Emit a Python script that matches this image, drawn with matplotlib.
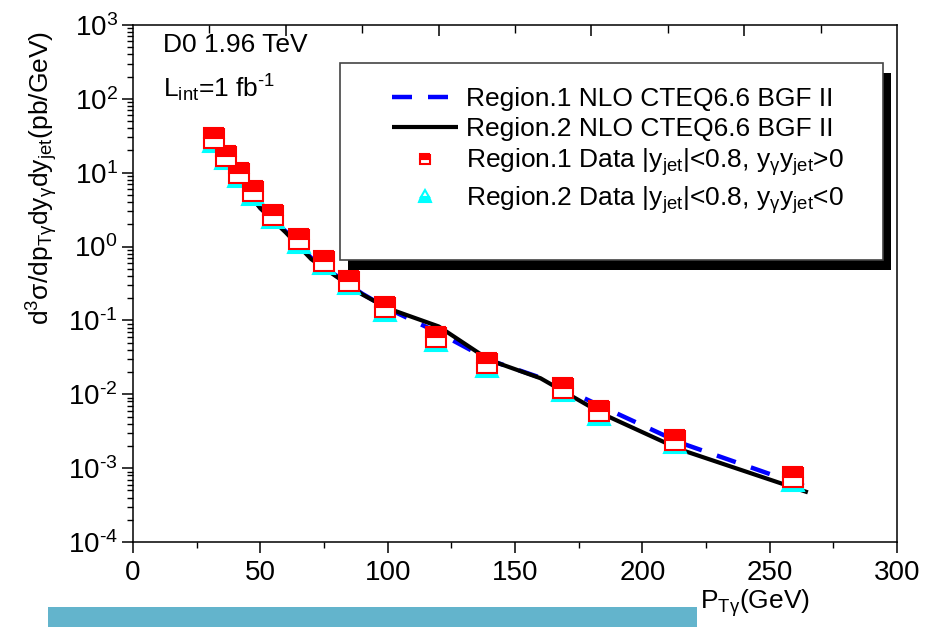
import matplotlib
matplotlib.use("Agg")
import matplotlib.pyplot as plt
from matplotlib.lines import Line2D
from matplotlib.patches import Rectangle
from matplotlib.ticker import FixedLocator, LogLocator, NullFormatter, FuncFormatter
import math

plt.rcParams["font.family"] = ["Liberation Sans", "DejaVu Sans"]
plt.rcParams["mathtext.fontset"] = "custom"
plt.rcParams["mathtext.rm"] = "Liberation Sans"
plt.rcParams["mathtext.it"] = "Liberation Sans"
plt.rcParams["mathtext.bf"] = "Liberation Sans:bold"

HYPHEN = "\u2010"

# Measured photon+jet cross sections (pb/GeV)
pt_data = [32, 36.5, 41.5, 47, 55, 65, 75, 85, 99, 119, 139, 169, 183, 213, 259]
region1_data = [29.3, 16.9, 9.8, 5.6, 2.7, 1.25, 0.64, 0.345, 0.150, 0.059,
                0.0265, 0.0123, 0.0059, 0.00244, 0.00076]
region2_data = [27.0, 15.6, 9.0, 5.1, 2.5, 1.15, 0.59, 0.32, 0.138, 0.054,
                0.0244, 0.0113, 0.0054, 0.00224, 0.00070]

# NLO CTEQ6.6 BGF II predictions
pt_nlo = [30, 35, 40, 45, 50, 60, 70, 80, 90, 100, 120, 140, 160, 185, 215, 265]
region1_nlo = [31, 17.5, 9.8, 5.6, 3.35, 1.6, 0.70, 0.40, 0.23, 0.145, 0.068,
               0.029, 0.0168, 0.0066, 0.0022, 0.00055]
region2_nlo = [30, 17, 9.5, 5.5, 3.3, 1.55, 0.675, 0.39, 0.225, 0.146, 0.083,
               0.029, 0.0165, 0.0053, 0.00178, 0.00047]

labels = [
    "Region.1 NLO CTEQ6.6 BGF II",
    "Region.2 NLO CTEQ6.6 BGF II",
    r"Region.1 Data |y$_{jet}$|<0.8, y$_{\gamma}$y$_{jet}$>0",
    r"Region.2 Data |y$_{jet}$|<0.8, y$_{\gamma}$y$_{jet}$<0",
]
x_ticks = [0, 50, 100, 150, 200, 250, 300]

W, H = 925, 627
fig = plt.figure(figsize=(W / 100, H / 100), dpi=100)
L, R, T, B = 133, 897, 25, 542
ax = fig.add_axes([L / W, 1 - B / H, (R - L) / W, (B - T) / H])

blue_style = dict(color="#0000ff", lw=3.2, dashes=[4.5, 3.6], dash_capstyle="butt")
black_style = dict(color="black", lw=3.0, solid_capstyle="butt")
sq_style = dict(marker="s", ls="none", color="#ff0000", mfc="#ff0000",
                mfcalt="white", fillstyle="top", mec="#ff0000", mew=1.5)
tri_style = dict(marker="^", ls="none", color="#00ffff", mfc="#00ffff",
                 mfcalt="white", fillstyle="bottom", mec="#00ffff", mew=1.5)

ax.plot(pt_nlo, region1_nlo, zorder=2, **blue_style)
ax.plot(pt_nlo, region2_nlo, zorder=2.1, **black_style)
ax.plot(pt_data, region2_data, ms=16, zorder=3, **tri_style)
ax.plot(pt_data, region1_data, ms=14, zorder=4, **sq_style)

ax.set_yscale("log")
ax.set_xlim(0, 300)
ax.set_ylim(1e-4, 1e3)

for s in ax.spines.values():
    s.set_linewidth(1.1)


def decade_label(v, pos):
    e = int(round(math.log10(v)))
    exp = str(e).replace("-", HYPHEN)
    return "10$^{" + exp + "}$"


ax.xaxis.set_major_locator(FixedLocator(x_ticks))
ax.xaxis.set_minor_locator(FixedLocator([25, 75, 125, 175, 225, 275]))
ax.yaxis.set_major_locator(LogLocator(base=10, numticks=20))
ax.yaxis.set_major_formatter(FuncFormatter(decade_label))
ax.yaxis.set_minor_locator(LogLocator(base=10, subs=range(2, 10), numticks=20))
ax.yaxis.set_minor_formatter(NullFormatter())
ax.tick_params(axis="both", which="major", direction="out", length=8, width=1.1,
               labelsize=20, pad=3)
ax.tick_params(axis="both", which="minor", direction="out", length=4.5, width=1.0)
ax.tick_params(axis="x", which="major", pad=5)

# ticks along the top frame
top = ax.secondary_xaxis("top")
top.xaxis.set_major_locator(FixedLocator([60, 120, 180, 240]))
top.xaxis.set_minor_locator(FixedLocator([30, 90, 150, 210, 270]))
top.tick_params(which="major", direction="in", length=8, width=1.1, labeltop=False)
top.tick_params(which="minor", direction="in", length=6, width=1.0)
top.spines["top"].set_visible(False)

# annotation
ax.text(0.039, 0.961, "D0 1.96 TeV", transform=ax.transAxes, fontsize=19,
        ha="left", va="center")
ax.text(0.039, 0.878, r"L$_{int}$=1 fb$^{" + HYPHEN + "1}$",
        transform=ax.transAxes, fontsize=19, ha="left", va="center")

# legend frame with a solid drop shadow
def ax_x(px):
    return (px - L) / (R - L)

def ax_y(py):
    return (B - py) / (B - T)

bx0, bx1, by0, by1 = 340, 883, 63, 260
dx, dy = 8, 10
ax.add_patch(Rectangle((ax_x(bx0 + dx), ax_y(by1 + dy)), ax_x(bx1) - ax_x(bx0),
                       ax_y(by0) - ax_y(by1), transform=ax.transAxes,
                       facecolor="black", edgecolor="none", zorder=6))
ax.add_patch(Rectangle((ax_x(bx0), ax_y(by1)), ax_x(bx1) - ax_x(bx0),
                       ax_y(by0) - ax_y(by1), transform=ax.transAxes,
                       facecolor="white", edgecolor="#444444", lw=1.2, zorder=7))

handles = [
    Line2D([], [], **blue_style),
    Line2D([], [], **black_style),
    Line2D([], [], ms=14, **sq_style),
    Line2D([], [], ms=16, **tri_style),
]
leg = ax.legend(handles, labels, loc="upper left",
                bbox_to_anchor=(ax_x(392), ax_y(87)), frameon=False,
                fontsize=19, handlelength=2.5, handletextpad=0.3,
                labelspacing=0.22, markerscale=0.55, borderpad=0,
                borderaxespad=0)
leg.set_zorder(8)

# axis titles
fig.text(42 / W, 1 - 178 / H,
         r"d$^{3}$σ/dp$_{T\gamma}$dy$_{\gamma}$dy$_{jet}$(pb/GeV)",
         rotation=90, ha="center", va="center", fontsize=19)
fig.text(700 / W, 1 - 603 / H, r"P$_{T\gamma}$(GeV)", ha="left", va="center",
         fontsize=19)

# banner strip along the bottom edge
fig.add_artist(Rectangle((48 / W, 0), (697 - 48) / W, (H - 607) / H,
                         transform=fig.transFigure, facecolor="#63b4cc",
                         edgecolor="none"))

fig.savefig("out.png", dpi=100)
